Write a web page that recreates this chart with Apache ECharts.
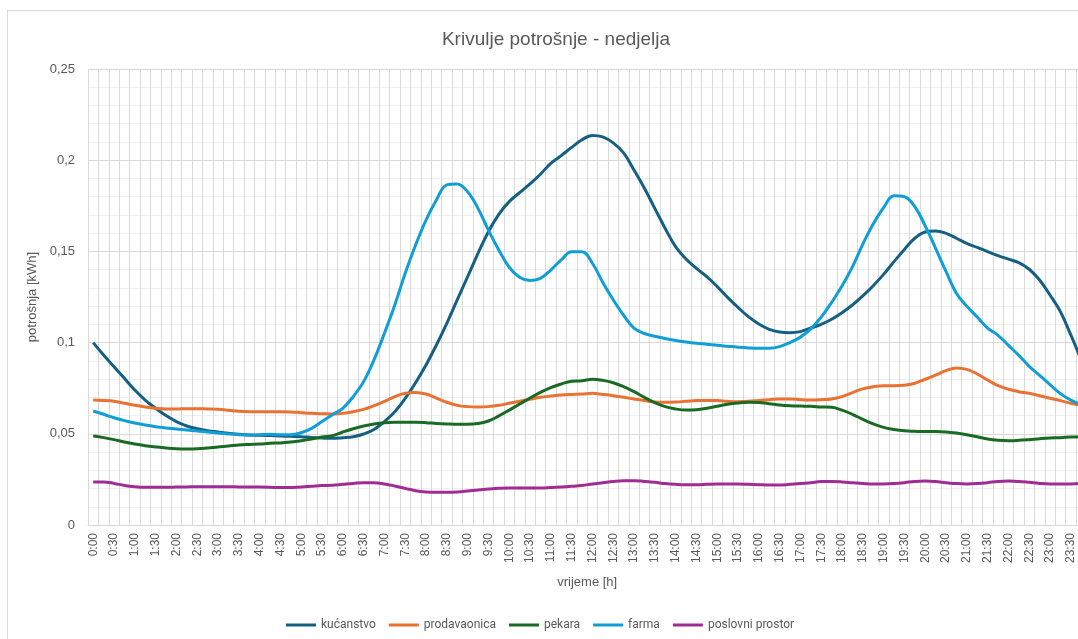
<!DOCTYPE html>
<html>
<head>
<meta charset="utf-8">
<script src="https://cdn.jsdelivr.net/npm/echarts@6/dist/echarts.min.js"></script>
<style>
html, body { margin: 0; padding: 0; background: #fff; overflow: hidden; width: 1078px; height: 639px; }
#wrap { position: absolute; left: 7px; top: 10px; width: 1096px; height: 640px; border: 1px solid #d9d9d9; }
#chart { width: 1096px; height: 640px; }
</style>
</head>
<body>
<div id="wrap"><div id="chart"></div></div>
<script>
/*
* Krivulje potrošnje - nedjelja (15-minutni podaci)
*/
var times = [];
for (var h = 0; h < 24; h++) {
    for (var m = 0; m < 60; m += 15) {
        times.push(h + ':' + (m < 10 ? '0' + m : m));
    }
}

var kucanstvo = [
    0.1, 0.0932, 0.0868, 0.0804, 0.074, 0.0685, 0.064, 0.060, 0.0567, 0.0543, 0.0528, 0.0517,
    0.051, 0.0503, 0.0497, 0.0493, 0.0492, 0.049, 0.0488, 0.0486, 0.0484, 0.048, 0.0477, 0.0475,
    0.0479, 0.0484, 0.0499, 0.0524, 0.0567, 0.0621, 0.0694, 0.078, 0.0877, 0.0987, 0.1106, 0.1234,
    0.1361, 0.1489, 0.1608, 0.1703, 0.1773, 0.1822, 0.187, 0.1923, 0.1983, 0.2025, 0.207, 0.2112,
    0.2136, 0.2128, 0.2095, 0.204, 0.1946, 0.1846, 0.1736, 0.1626, 0.1526, 0.1458, 0.1407, 0.1362,
    0.1307, 0.1248, 0.1193, 0.1142, 0.1102, 0.1073, 0.1058, 0.1054, 0.106, 0.108, 0.110, 0.1128,
    0.1164, 0.1206, 0.1256, 0.1312, 0.1374, 0.1444, 0.1511, 0.1572, 0.1606, 0.1612, 0.1599, 0.1572,
    0.1544, 0.1522, 0.1499, 0.1477, 0.1458, 0.1438, 0.1402, 0.1343, 0.1261, 0.117, 0.1042, 0.0905
];
var prodavaonica = [
    0.0685, 0.0683, 0.0678, 0.0667, 0.0656, 0.0647, 0.064, 0.0636, 0.0636, 0.0638, 0.0638, 0.0636,
    0.0634, 0.0629, 0.0623, 0.0621, 0.0621, 0.0621, 0.0621, 0.062, 0.0616, 0.0612, 0.061, 0.0609,
    0.0612, 0.0621, 0.0634, 0.0654, 0.0678, 0.0704, 0.0722, 0.0727, 0.0718, 0.0696, 0.0673, 0.0656,
    0.0649, 0.0647, 0.0649, 0.0656, 0.0667, 0.0678, 0.0689, 0.07, 0.0707, 0.0713, 0.0716, 0.0718,
    0.0722, 0.0716, 0.0709, 0.07, 0.0691, 0.0682, 0.0674, 0.0673, 0.0674, 0.0678, 0.0682, 0.0683,
    0.0682, 0.0678, 0.0676, 0.0678, 0.0683, 0.0687, 0.0691, 0.0691, 0.0687, 0.0685, 0.0687, 0.0691,
    0.0704, 0.0726, 0.0746, 0.0758, 0.0764, 0.0764, 0.0766, 0.0777, 0.0799, 0.0822, 0.0846, 0.0861,
    0.0853, 0.0828, 0.0795, 0.0764, 0.0744, 0.0731, 0.0722, 0.0709, 0.0695, 0.0682, 0.0667, 0.0656
];
var pekara = [
    0.0488, 0.0479, 0.0468, 0.0455, 0.0444, 0.0435, 0.0428, 0.0422, 0.0418, 0.0417, 0.0418, 0.0422,
    0.0428, 0.0433, 0.0439, 0.0442, 0.0444, 0.0448, 0.045, 0.0455, 0.0462, 0.0471, 0.0482, 0.049,
    0.051, 0.0528, 0.0543, 0.0554, 0.0561, 0.0563, 0.0563, 0.0563, 0.0561, 0.0557, 0.0554, 0.0552,
    0.0552, 0.0556, 0.057, 0.0598, 0.063, 0.0663, 0.0696, 0.0727, 0.0753, 0.0773, 0.0788, 0.0791,
    0.0799, 0.0793, 0.078, 0.0758, 0.0731, 0.07, 0.0671, 0.0649, 0.0636, 0.063, 0.0632, 0.064,
    0.0651, 0.0662, 0.0669, 0.0673, 0.0671, 0.0665, 0.0658, 0.0654, 0.0652, 0.0651, 0.0647, 0.0645,
    0.063, 0.0607, 0.0579, 0.0554, 0.0535, 0.0524, 0.0517, 0.0514, 0.0512, 0.0512, 0.051, 0.0504,
    0.0495, 0.0484, 0.0471, 0.0464, 0.0462, 0.0464, 0.0468, 0.0473, 0.0477, 0.0479, 0.0482, 0.0484
];
var farma = [
    0.0625, 0.0607, 0.0588, 0.0572, 0.0559, 0.0548, 0.0539, 0.0532, 0.0526, 0.0521, 0.0515, 0.051,
    0.0504, 0.0499, 0.0495, 0.0493, 0.0495, 0.0497, 0.0495, 0.0495, 0.0506, 0.053, 0.0567, 0.0605,
    0.064, 0.0704, 0.0786, 0.0905, 0.1051, 0.1206, 0.138, 0.1535, 0.1672, 0.1782, 0.1865, 0.187,
    0.1827, 0.1736, 0.1617, 0.1508, 0.1413, 0.1358, 0.134, 0.1352, 0.1398, 0.1453, 0.1498, 0.1498,
    0.1435, 0.133, 0.1235, 0.115, 0.108, 0.105, 0.1035, 0.1022, 0.1012, 0.1003, 0.0996, 0.0991,
    0.0985, 0.098, 0.0975, 0.0971, 0.0969, 0.0969, 0.0978, 0.1, 0.103, 0.1075, 0.114, 0.122,
    0.131, 0.1415, 0.154, 0.165, 0.174, 0.1805, 0.18, 0.1745, 0.164, 0.1517, 0.139, 0.127,
    0.12, 0.114, 0.108, 0.104, 0.0985, 0.093, 0.087, 0.082, 0.077, 0.072, 0.0685, 0.066
];
var poslovniProstor = [
    0.0236, 0.0236, 0.0228, 0.0217, 0.021, 0.0207, 0.0207, 0.0207, 0.0208, 0.0209, 0.021, 0.021,
    0.021, 0.021, 0.0209, 0.0208, 0.0208, 0.0207, 0.0205, 0.0206, 0.0208, 0.0212, 0.0216, 0.0218,
    0.0223, 0.0228, 0.0232, 0.0232, 0.0225, 0.0214, 0.0201, 0.0188, 0.0181, 0.0179, 0.0179, 0.0181,
    0.0186, 0.0192, 0.0197, 0.0201, 0.0203, 0.0203, 0.0203, 0.0203, 0.0205, 0.0208, 0.0212, 0.0217,
    0.0225, 0.0232, 0.0239, 0.0243, 0.0243, 0.0239, 0.0234, 0.0227, 0.0223, 0.0221, 0.0221, 0.0223,
    0.0225, 0.0225, 0.0225, 0.0223, 0.0221, 0.0219, 0.0219, 0.0223, 0.0227, 0.0232, 0.0238, 0.0238,
    0.0236, 0.0232, 0.0228, 0.0225, 0.0225, 0.0227, 0.0232, 0.0239, 0.0241, 0.0238, 0.0232, 0.0227,
    0.0225, 0.0227, 0.0232, 0.0239, 0.0241, 0.0239, 0.0234, 0.0228, 0.0225, 0.0225, 0.0225, 0.0227
];

var seriesNames = ['kućanstvo', 'prodavaonica', 'pekara', 'farma', 'poslovni prostor'];
var seriesColors = ['#156082', '#E97132', '#196B24', '#0F9ED5', '#A02B93'];
var seriesData = [kucanstvo, prodavaonica, pekara, farma, poslovniProstor];

var txt = '#595959';
var font = 'Liberation Sans';

var series = [];
for (var s = 0; s < seriesNames.length; s++) {
    series.push({
        name: seriesNames[s],
        type: 'line',
        data: seriesData[s],
        smooth: 0.4,
        showSymbol: false,
        symbol: 'none',
        color: seriesColors[s],
        lineStyle: { width: 3, color: seriesColors[s] }
    });
}

var option = {
    animation: false,
    title: {
        text: 'Krivulje potrošnje - nedjelja',
        left: 'center',
        top: 14,
        textStyle: { color: txt, fontSize: 19, fontWeight: 'normal', fontFamily: font }
    },
    legend: {
        data: seriesNames,
        left: 273,
        top: 603,
        icon: 'rect',
        itemWidth: 30,
        itemHeight: 3,
        itemGap: 13,
        textStyle: { color: txt, fontSize: 12, fontFamily: 'Roboto' }
    },
    grid: { left: 80, top: 58, width: 998.4, height: 456 },
    xAxis: {
        type: 'category',
        data: times,
        boundaryGap: true,
        name: 'vrijeme [h]',
        nameLocation: 'middle',
        nameGap: 51,
        nameTextStyle: { color: txt, fontSize: 13, fontFamily: font },
        axisLine: { lineStyle: { color: '#d9d9d9' } },
        axisTick: { show: false },
        axisLabel: { interval: 1, rotate: 90, color: txt, fontSize: 12, fontFamily: font, margin: 8 },
        splitLine: { show: true, interval: 0, lineStyle: { color: '#d9d9d9', width: 1 } }
    },
    yAxis: {
        type: 'value',
        min: 0,
        max: 0.25,
        interval: 0.05,
        name: 'potrošnja [kWh]',
        nameLocation: 'middle',
        nameRotate: 90,
        nameGap: 48,
        nameTextStyle: { color: txt, fontSize: 13, fontFamily: font },
        axisLine: { show: false },
        axisTick: { show: false },
        axisLabel: {
            color: txt, fontSize: 13, fontFamily: font, margin: 13,
            formatter: function (v) { return String(+v.toFixed(2)).replace('.', ','); }
        },
        splitLine: { lineStyle: { color: '#d9d9d9' } },
        minorTick: { show: false, splitNumber: 5 },
        minorSplitLine: { show: true, lineStyle: { color: '#efefef' } }
    },
    series: series
};

var myChart = echarts.init(document.getElementById('chart'));
myChart.setOption(option);
</script>
</body>
</html>
